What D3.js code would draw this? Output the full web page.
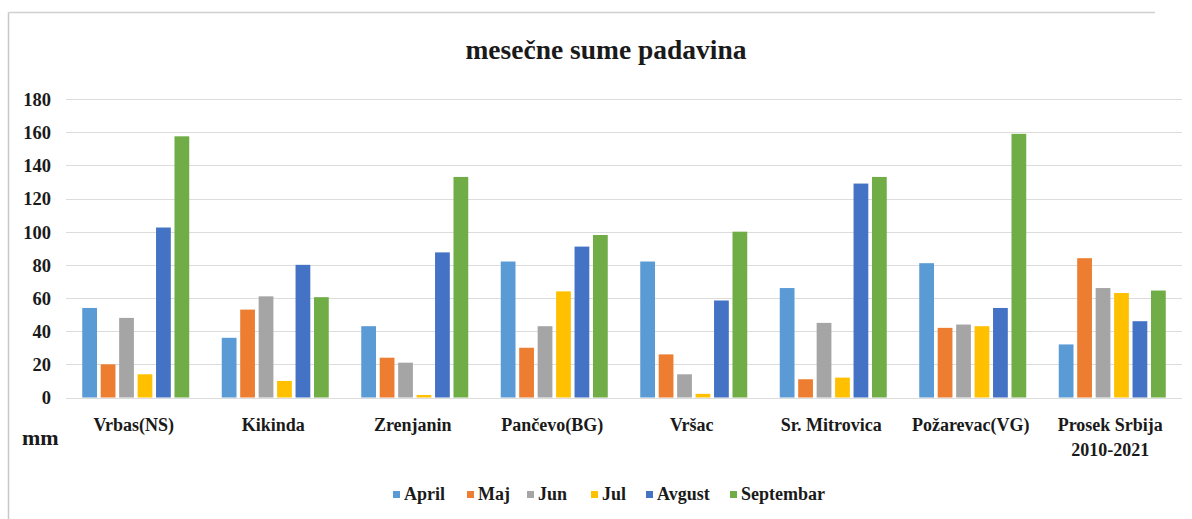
<!DOCTYPE html>
<html>
<head>
<meta charset="utf-8">
<script src="https://cdn.jsdelivr.net/npm/d3@7"></script>
<style>
  html, body { margin: 0; padding: 0; background: #fff; }
  svg { display: block; }
</style>
</head>
<body>
<svg id="chart" width="1192" height="519"></svg>
<script>
const categories = ["Vrbas(NS)", "Kikinda", "Zrenjanin", "Pančevo(BG)", "Vršac", "Sr. Mitrovica", "Požarevac(VG)", "Prosek Srbija\n2010-2021"];
const seriesNames = ["April", "Maj", "Jun", "Jul", "Avgust", "Septembar"];
const seriesColors = ["#5b9bd5", "#ed7d31", "#a5a5a5", "#ffc000", "#4472c4", "#70ad47"];
const april     = [54, 36, 43, 82, 82, 66, 81, 32];
const maj       = [20, 53, 24, 30, 26, 11, 42, 84];
const jun       = [48, 61, 21, 43, 14, 45, 44, 66];
const jul       = [14, 10, 1.5, 64, 2.2, 12, 43, 63];
const avgust    = [102.5, 80, 87.5, 91, 58.5, 129, 54, 46];
const septembar = [157.5, 60.5, 133, 98, 100, 133, 159, 64.5];
const yTicks = [0, 20, 40, 60, 80, 100, 120, 140, 160, 180];
const titleText = "mesečne sume padavina";
const yUnit = "mm";

const seriesValues = [april, maj, jun, jul, avgust, septembar];
const FONT = "'Liberation Serif', 'Times New Roman', serif";

const svg = d3.select("#chart");
function styleText(sel, size) {
  return sel.style("font-family", FONT).style("font-weight", "bold")
    .style("font-size", size + "px").style("fill", "#1a1a1a");
}

// frame (left and top edges)
svg.append("line").attr("x1", 8.5).attr("x2", 8.5).attr("y1", 12.5).attr("y2", 519)
  .attr("stroke", "#c8c8c8").attr("stroke-width", 1.5);
svg.append("line").attr("x1", 8.5).attr("x2", 1155).attr("y1", 12.5).attr("y2", 12.5)
  .attr("stroke", "#d0d0d0").attr("stroke-width", 1.5);

const x0 = d3.scaleBand().domain(d3.range(categories.length)).range([66, 1182])
  .paddingInner(0.233).paddingOuter(0.1165);
const x1 = d3.scaleBand().domain(d3.range(seriesNames.length)).range([0, x0.bandwidth()])
  .paddingInner(0.2).paddingOuter(0);
const y = d3.scaleLinear().domain([0, 180]).range([397.5, 99]);

// gridlines
svg.append("g").selectAll("line").data(yTicks).join("line")
  .attr("x1", 66).attr("x2", 1182)
  .attr("y1", d => Math.round(y(d)) + 0.5).attr("y2", d => Math.round(y(d)) + 0.5)
  .attr("stroke", "#dcdcdc").attr("stroke-width", 1);

// y axis labels
const yAxis = d3.axisLeft(y).tickValues(yTicks).tickSize(0).tickPadding(0);
const gy = svg.append("g").attr("transform", "translate(51,0)").call(yAxis);
gy.select(".domain").remove();
styleText(gy.selectAll("text"), 18.5).attr("dy", "0.35em");

// bars
const groups = svg.append("g").selectAll("g").data(categories).join("g")
  .attr("transform", (d, i) => `translate(${x0(i)},0)`);
groups.selectAll("rect").data((d, i) => seriesValues.map((s, k) => ({ k, v: s[i] })))
  .join("rect")
  .attr("x", d => x1(d.k))
  .attr("width", x1.bandwidth())
  .attr("y", d => y(d.v))
  .attr("height", d => y(0) - y(d.v))
  .attr("fill", d => seriesColors[d.k]);

// category labels
const gx = svg.append("g");
categories.forEach((c, i) => {
  const lines = c.split("\n");
  const cx = x0(i) + x0.bandwidth() / 2 - 2;
  const t = styleText(gx.append("text"), 18)
    .attr("x", cx).attr("y", 431).attr("text-anchor", "middle");
  lines.forEach((ln, j) => {
    t.append("tspan").attr("x", cx).attr("dy", j === 0 ? 0 : 25).text(ln);
  });
});

// y unit
styleText(svg.append("text"), 22).attr("x", 22).attr("y", 445).text(yUnit);

// title
styleText(svg.append("text"), 27.5).attr("x", 606).attr("y", 59).attr("text-anchor", "middle")
  .text(titleText);

// legend
const legendX = [393, 467, 527, 591, 646, 730];
const lg = svg.append("g");
seriesNames.forEach((n, k) => {
  lg.append("rect").attr("x", legendX[k]).attr("y", 491).attr("width", 7).attr("height", 7)
    .attr("fill", seriesColors[k]);
  styleText(lg.append("text"), 18).attr("x", legendX[k] + 11).attr("y", 500).text(n);
});
</script>
</body>
</html>
